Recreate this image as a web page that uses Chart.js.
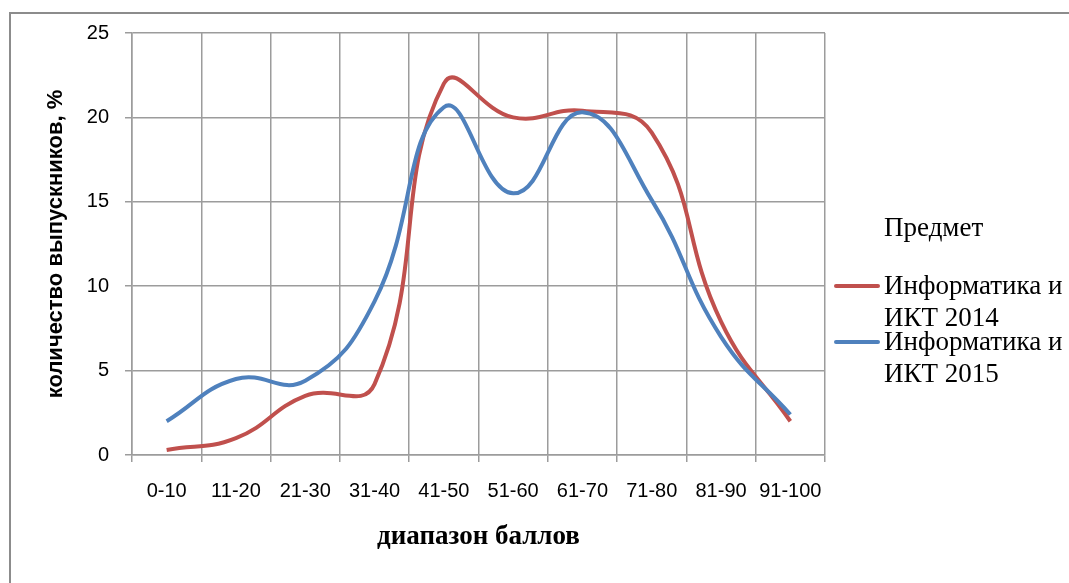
<!DOCTYPE html>
<html>
<head>
<meta charset="utf-8">
<script src="https://cdn.jsdelivr.net/npm/chart.js@4"></script>
<style>
  html, body { margin: 0; padding: 0; background: #fff; }
  #wrap { position: relative; width: 1069px; height: 583px; overflow: hidden; }
  #frame { position: absolute; left: 9px; top: 12px; right: -10px; bottom: -10px;
           border-left: 2px solid #8c8c8c; border-top: 2px solid #8c8c8c; }
  canvas { position: absolute; left: 0; top: 0; }
  .lg { position: absolute; font-family: "Liberation Serif", "Times New Roman", serif;
        font-size: 27px; color: #000; white-space: nowrap; line-height: 32px; }
  .sw { position: absolute; height: 4px; width: 46px; border-radius: 2px; }
</style>
</head>
<body>
<div id="wrap">
  <div id="frame"></div>
  <canvas id="grafico" width="1069" height="583"></canvas>

  <!-- легенда -->
  <div class="lg" style="left:884px; top:211px;">Предмет</div>
  <div class="sw" style="left:834px; top:284px; background:#c0504d;"></div>
  <div class="lg" style="left:884px; top:269px;">Информатика и<br>ИКТ 2014</div>
  <div class="sw" style="left:834px; top:340px; background:#4f81bd;"></div>
  <div class="lg" style="left:884px; top:325px;">Информатика и<br>ИКТ 2015</div>
</div>

<script>
// диапазоны баллов
const diapazony = ["0-10", "11-20", "21-30", "31-40", "41-50", "51-60", "61-70", "71-80", "81-90", "91-100"];

// % выпускников
const inf2014 = [0.3, 1.0, 3.5, 4.2, 22.0, 20.0, 20.4, 19.1, 7.9, 2.0];
const inf2015 = [2.0, 4.5, 4.4, 9.1, 20.6, 15.5, 20.3, 15.1, 7.0, 2.4];

const yTicks = [0, 5, 10, 15, 20, 25];

const GRID = "#9c9c9c";
const SANS = "'Liberation Sans Narrow', 'Liberation Sans', sans-serif";

new Chart(document.getElementById("grafico"), {
  type: "line",
  data: {
    labels: diapazony,
    datasets: [
      {
        label: "Информатика и ИКТ 2014",
        data: inf2014,
        borderColor: "#c0504d",
        borderWidth: 4,
        tension: 0.45,
        pointRadius: 0,
        order: 1
      },
      {
        label: "Информатика и ИКТ 2015",
        data: inf2015,
        borderColor: "#4f81bd",
        borderWidth: 4,
        tension: 0.45,
        pointRadius: 0,
        order: 0
      }
    ]
  },
  options: {
    responsive: false,
    animation: false,
    layout: { padding: { top: 33, right: 244, bottom: 0, left: 0 } },
    plugins: { legend: { display: false }, tooltip: { enabled: false } },
    scales: {
      x: {
        offset: true,
        grid: { offset: true, color: GRID, lineWidth: 1.5, tickLength: 7 },
        border: { color: GRID, width: 1.5 },
        ticks: {
          color: "#000",
          padding: 17,
          maxRotation: 0,
          font: { family: SANS, size: 20 }
        },
        title: {
          display: true,
          text: "диапазон баллов",
          color: "#000",
          padding: { top: 0, bottom: 30 },
          font: { family: "'Liberation Serif', serif", size: 27, weight: "bold" }
        },
        afterFit: (s) => { s.height = 128; }
      },
      y: {
        min: 0,
        max: 25,
        afterBuildTicks: (s) => { s.ticks = yTicks.map(v => ({ value: v })); },
        grid: { color: GRID, lineWidth: 1.5, tickLength: 7 },
        border: { color: GRID, width: 1.5 },
        ticks: {
          color: "#000",
          padding: 16,
          font: { family: SANS, size: 20 }
        },
        title: {
          display: true,
          text: "количество выпускников, %",
          color: "#000",
          padding: { top: 43, bottom: 0 },
          font: { family: SANS, size: 22, weight: "bold" }
        },
        afterFit: (s) => { s.width = 132; }
      }
    }
  }
});
</script>
</body>
</html>
